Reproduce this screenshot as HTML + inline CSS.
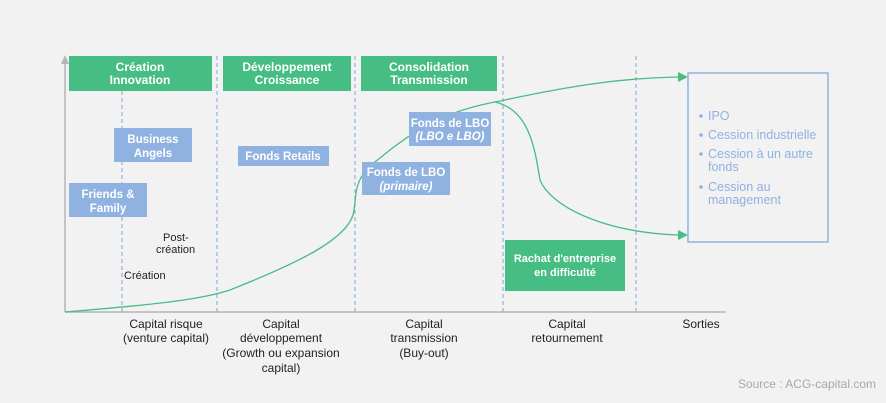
<!DOCTYPE html>
<html><head><meta charset="utf-8"><style>
body{margin:0;background:#f2f2f2;}
svg{display:block;font-family:"Liberation Sans",sans-serif;}
</style></head><body>
<svg width="886" height="403" viewBox="0 0 886 403" xmlns="http://www.w3.org/2000/svg">
<rect width="886" height="403" fill="#f2f2f2"/>
<!-- axes -->
<line x1="65" y1="312" x2="65" y2="62" stroke="#b5b5b5" stroke-width="1.5"/>
<polygon points="61,64 69,64 65,55" fill="#b5b5b5"/>
<line x1="65" y1="312" x2="726" y2="312" stroke="#b5b5b5" stroke-width="1.5"/>
<!-- dashed -->
<g stroke="#8fb2e0" stroke-width="1.2" stroke-dasharray="4,3">
<line x1="122" y1="56" x2="122" y2="312"/>
<line x1="217" y1="56" x2="217" y2="312"/>
<line x1="355" y1="56" x2="355" y2="312"/>
<line x1="503" y1="56" x2="503" y2="312"/>
<line x1="636" y1="56" x2="636" y2="312"/>
</g>
<!-- green headers -->
<g fill="#46bd82">
<rect x="69" y="56" width="143" height="35"/>
<rect x="223" y="56" width="128" height="35"/>
<rect x="361" y="56" width="136" height="35"/>
<rect x="505" y="240" width="120" height="51"/>
</g>
<g fill="#fff" font-size="12" font-weight="bold" text-anchor="middle">
<text x="140" y="71">Création</text><text x="140" y="84">Innovation</text>
<text x="287" y="71">Développement</text><text x="287" y="84">Croissance</text>
<text x="429" y="71">Consolidation</text><text x="429" y="84">Transmission</text>
<text x="565" y="262" font-size="11">Rachat d'entreprise</text><text x="565" y="276" font-size="11">en difficulté</text>
</g>
<!-- curve -->
<g fill="none" stroke="#46bd82" stroke-width="1.3">
<path d="M65,312 C150,305 200,300 230,290 C300,262 345,240 353,215 C358,195 350,180 380,158 C420,125 450,110 500,101 C570,86 620,78 678,77"/>
<path d="M495,102 C530,110 535,150 540,180 C550,205 600,232 678,235"/>
</g>
<polygon points="678,72 688,77 678,82" fill="#46bd82"/>
<polygon points="678,230 688,235 678,240" fill="#46bd82"/>
<!-- blue boxes -->
<g fill="#8fb2e0">
<rect x="114" y="128" width="78" height="34"/>
<rect x="69" y="183" width="78" height="34"/>
<rect x="238" y="146" width="91" height="20"/>
<rect x="409" y="112" width="82" height="34"/>
<rect x="362" y="162" width="88" height="33"/>
</g>
<g fill="#fff" font-size="11.5" font-weight="bold" text-anchor="middle">
<text x="153" y="143">Business</text><text x="153" y="157">Angels</text>
<text x="108" y="198">Friends &amp;</text><text x="108" y="212">Family</text>
<text x="283" y="160">Fonds Retails</text>
<text x="450" y="127">Fonds de LBO</text><text x="450" y="140" font-style="italic">(LBO e LBO)</text>
<text x="406" y="176">Fonds de LBO</text><text x="406" y="190" font-style="italic">(primaire)</text>
</g>
<g fill="#222" font-size="11">
<text x="163" y="241">Post-</text><text x="156" y="253">création</text>
<text x="124" y="279">Création</text>
</g>
<!-- exits box -->
<rect x="688" y="73" width="140" height="169" fill="none" stroke="#8fb2e0" stroke-width="1.5"/>
<g fill="#8fb2e0" font-size="12.5">
<circle cx="701" cy="116" r="1.8"/><text x="708" y="120">IPO</text>
<circle cx="701" cy="135" r="1.8"/><text x="708" y="139">Cession industrielle</text>
<circle cx="701" cy="154" r="1.8"/><text x="708" y="158">Cession à un autre</text><text x="708" y="171">fonds</text>
<circle cx="701" cy="187" r="1.8"/><text x="708" y="191">Cession au</text><text x="708" y="204">management</text>
</g>
<!-- bottom labels -->
<g fill="#222" font-size="12" text-anchor="middle" font-family="'Liberation Sans Narrow','Liberation Sans',sans-serif">
<text x="166" y="328">Capital risque</text><text x="166" y="342">(venture capital)</text>
<text x="281" y="328">Capital</text><text x="281" y="342">développement</text><text x="281" y="357">(Growth ou expansion</text><text x="281" y="372">capital)</text>
<text x="424" y="328">Capital</text><text x="424" y="342">transmission</text><text x="424" y="357">(Buy-out)</text>
<text x="567" y="328">Capital</text><text x="567" y="342">retournement</text>
<text x="701" y="328">Sorties</text>
</g>
<text x="876" y="388" fill="#a8a8a8" font-size="12" text-anchor="end">Source : ACG-capital.com</text>
</svg>
</body></html>
